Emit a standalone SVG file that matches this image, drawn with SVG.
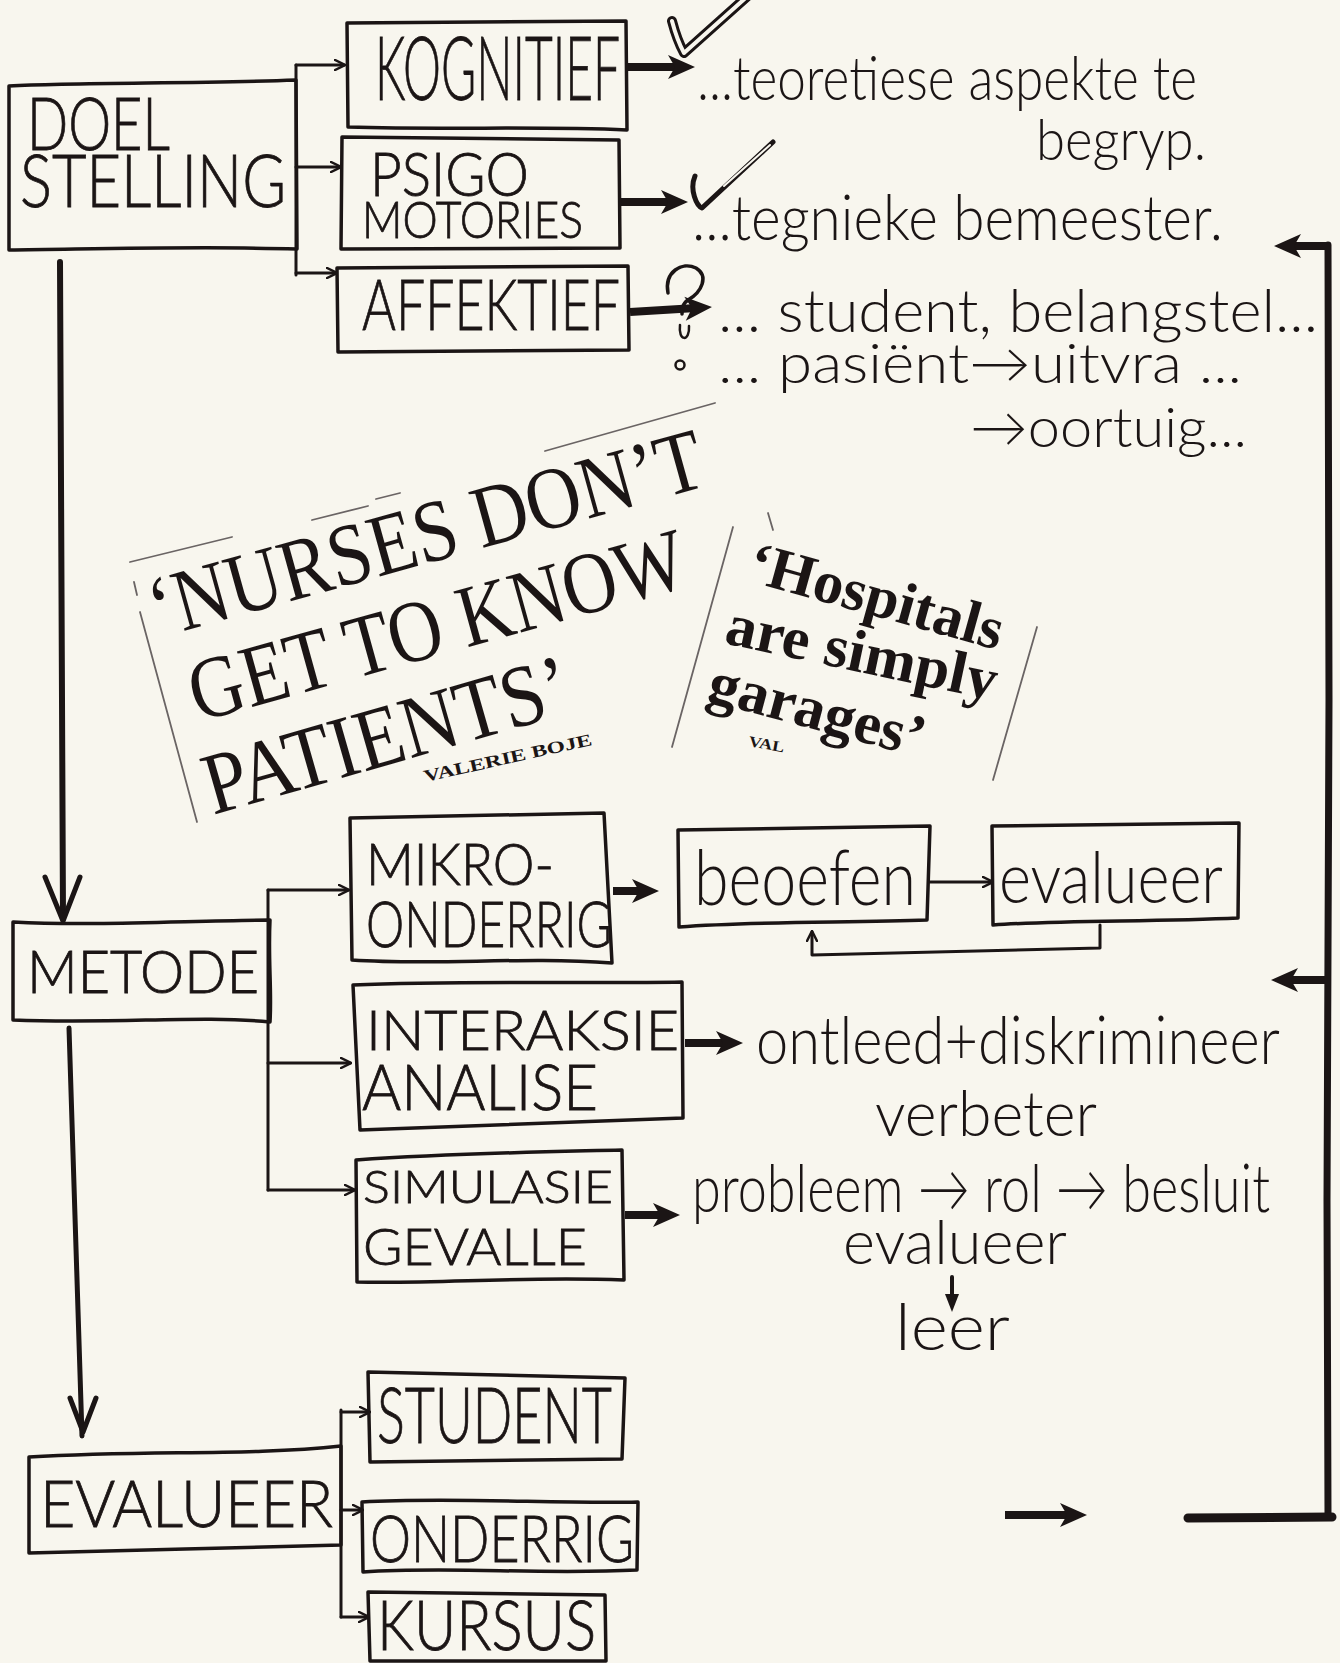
<svg xmlns="http://www.w3.org/2000/svg" width="1340" height="1663" viewBox="0 0 1340 1663">
<style>
.bg{fill:#f8f6ee}
.box{fill:none;stroke:#1b1515;stroke-width:3.5;stroke-linejoin:round;stroke-linecap:round}
.cap{font-family:"Lato","Liberation Sans",sans-serif;font-weight:300;fill:#1b1515;stroke:#1b1515;stroke-width:0.8}
.hand{font-family:"Lato","Liberation Sans",sans-serif;font-weight:300;fill:#1b1515}
.news{font-family:"Liberation Serif","Times New Roman",serif;fill:#1b1515}
.ln{fill:none;stroke:#1b1515;stroke-width:3;stroke-linecap:round;stroke-linejoin:round}
.thk{fill:none;stroke:#1b1515;stroke-width:8;stroke-linecap:butt;stroke-linejoin:miter}
.frame{fill:none;stroke:#6a6464;stroke-width:1.8;stroke-linecap:round}
.ink{fill:none;stroke:#1b1515;stroke-linecap:round;stroke-linejoin:round}
</style>
<defs>
<marker id="a" viewBox="0 0 12 12" refX="10" refY="6" markerWidth="12" markerHeight="12" markerUnits="userSpaceOnUse" orient="auto"><path d="M1,1 L11,6 L1,11" fill="none" stroke="#1b1515" stroke-width="2.5" stroke-linecap="round"/></marker>
<marker id="A" viewBox="0 0 30 26" refX="13" refY="13" markerWidth="30" markerHeight="26" markerUnits="userSpaceOnUse" orient="auto"><path d="M2,1 L29,13 L2,25 L9,13 Z" fill="#1b1515"/></marker>
</defs>
<rect class="bg" x="0" y="0" width="1340" height="1663"/>

<g id="connectors">
  <path class="ln" d="M296,65 L296,275"/>
  <path class="ln" d="M296,65 L344,65" marker-end="url(#a)"/>
  <path class="ln" d="M296,167 L340,167" marker-end="url(#a)"/>
  <path class="ln" d="M296,273 L336,273" marker-end="url(#a)"/>
  <path class="thk" d="M627,67 L679,67" marker-end="url(#A)"/>
  <path class="thk" d="M619,202 L672,202" marker-end="url(#A)"/>
  <path class="thk" d="M630,312 L696,308" marker-end="url(#A)"/>
  <path class="ink" stroke-width="6" d="M60,262 L63,918"/>
  <path class="ink" stroke-width="5" d="M45,877 L63,921 L80,877"/>
  <path class="ln" d="M268,890 L268,1190"/>
  <path class="ln" d="M268,890 L348,890" marker-end="url(#a)"/>
  <path class="ln" d="M268,1063 L350,1063" marker-end="url(#a)"/>
  <path class="ln" d="M268,1190 L354,1190" marker-end="url(#a)"/>
  <path class="thk" d="M613,891 L643,891" marker-end="url(#A)"/>
  <path class="thk" d="M685,1043 L727,1043" marker-end="url(#A)"/>
  <path class="thk" d="M625,1215 L664,1215" marker-end="url(#A)"/>
  <path class="ln" d="M930,882 L992,882" marker-end="url(#a)"/>
  <path class="ln" d="M1100,925 L1100,948 L812,955 L812,932" marker-end="url(#a)"/>
  <path class="ink" stroke-width="4" d="M952,1277 L952,1298"/>
  <path d="M945,1294 L952,1312 L959,1294 Z" fill="#1b1515"/>
  <path class="ink" stroke-width="5" d="M69,1028 L82,1436"/>
  <path class="ink" stroke-width="5" d="M70,1398 L83,1432 L96,1398"/>
  <path class="ln" d="M341,1410 L341,1617"/>
  <path class="ln" d="M341,1412 L369,1412" marker-end="url(#a)"/>
  <path class="ln" d="M341,1510 L362,1510" marker-end="url(#a)"/>
  <path class="ln" d="M341,1617 L368,1617" marker-end="url(#a)"/>
  <path class="ink" stroke-width="7" d="M1328,245 L1329,700 L1327,1200 L1328,1517"/>
  <path class="ink" stroke-width="9" stroke-linecap="butt" d="M1188,1518 L1332,1517"/>
  <path class="thk" d="M1328,246 L1290,246" marker-end="url(#A)"/>
  <path class="thk" d="M1328,980 L1287,980" marker-end="url(#A)"/>
  <path class="thk" d="M1005,1515 L1071,1515" marker-end="url(#A)"/>
</g>

<g id="node-doelstelling">
  <path class="box" d="M9,86 C80,82 200,84 296,80 L297,249 C200,246 100,249 9,250 Z"/>
  <text class="cap" x="27" y="150" font-size="72" textLength="143" lengthAdjust="spacingAndGlyphs">DOEL</text>
  <text class="cap" x="20" y="207" font-size="73" textLength="266" lengthAdjust="spacingAndGlyphs">STELLING</text>
</g>
<g id="node-kognitief">
  <path class="box" d="M347,23 L626,21 L627,130 C540,126 450,130 348,127 Z"/>
  <text class="cap" x="375" y="100" font-size="88" textLength="245" lengthAdjust="spacingAndGlyphs">KOGNITIEF</text>
</g>
<g id="node-psigomotories">
  <path class="box" d="M342,137 L619,140 L620,248 L341,249 Z"/>
  <text class="cap" x="370" y="196" font-size="62" textLength="159" lengthAdjust="spacingAndGlyphs">PSIGO</text>
  <text class="cap" x="362" y="238" font-size="52" textLength="221" lengthAdjust="spacingAndGlyphs">MOTORIES</text>
</g>
<g id="node-affektief">
  <path class="box" d="M337,268 L628,266 L629,350 L338,352 Z"/>
  <text class="cap" x="362" y="330" font-size="70" textLength="258" lengthAdjust="spacingAndGlyphs">AFFEKTIEF</text>
</g>

<g id="results-top">
  <path class="ink" stroke-width="10" d="M672,21 Q677,40 684,53 L750,-6"/>
  <path d="M672,21 Q677,40 684,53 L750,-6" fill="none" stroke="#f8f6ee" stroke-width="4" stroke-linecap="round" stroke-linejoin="round"/>
  <path class="ink" stroke-width="5" d="M695,176 C689,190 697,206 702,208 L773,142"/>
  <path d="M724,186 L770,145" fill="none" stroke="#f8f6ee" stroke-width="2" stroke-linecap="round"/>
  <path class="ink" stroke-width="3.5" d="M668,293 C664,272 682,261 696,268 C709,276 702,292 688,300 C682,304 682,309 682,314"/>
  <path class="ink" stroke-width="2.5" d="M680,325 C678,342 690,342 689,326"/>
  <circle cx="680" cy="365" r="4.5" fill="none" stroke="#1b1515" stroke-width="2.5"/>
  <text class="hand" x="697" y="100" font-size="62" textLength="500" lengthAdjust="spacingAndGlyphs">...teoretiese aspekte te</text>
  <text class="hand" x="1036" y="160" font-size="58" textLength="170" lengthAdjust="spacingAndGlyphs">begryp.</text>
  <text class="hand" x="692" y="240" font-size="64" textLength="531" lengthAdjust="spacingAndGlyphs">...tegnieke bemeester.</text>
  <text class="hand" transform="translate(718,332) scale(1,1.15)" font-size="52" textLength="600" lengthAdjust="spacingAndGlyphs">... student, belangstel...</text>
  <text class="hand" x="718" y="383" font-size="56" textLength="524" lengthAdjust="spacingAndGlyphs">... pasiënt→uitvra ...</text>
  <text class="hand" x="970" y="447" font-size="56" textLength="277" lengthAdjust="spacingAndGlyphs">→oortuig...</text>
</g>

<g id="clippings">
  <path class="frame" d="M130,562 L232,537 M312,520 L368,506 M376,499 L400,493 M545,451 L715,403"/>
  <path class="frame" d="M134,582 L137,595 M140,612 L197,822"/>
  <path class="frame" d="M733,527 L672,747 M768,513 L773,530 M1037,627 L993,780"/>
  <text class="news" transform="translate(158,638) rotate(-15.5)" font-size="88" textLength="572" lengthAdjust="spacingAndGlyphs">‘NURSES DON’T</text>
  <text class="news" transform="translate(198,722) rotate(-15.5)" font-size="88" textLength="512" lengthAdjust="spacingAndGlyphs">GET TO KNOW</text>
  <text class="news" transform="translate(213,815) rotate(-16)" font-size="88" textLength="378" lengthAdjust="spacingAndGlyphs">PATIENTS’</text>
  <text class="news" transform="translate(425,782) rotate(-12.5)" font-size="17" font-weight="700" textLength="172" lengthAdjust="spacingAndGlyphs">VALERIE  BOJE</text>
  <text class="news" transform="translate(745,580) rotate(15.5)" font-size="60" font-weight="700" textLength="262" lengthAdjust="spacingAndGlyphs">‘Hospitals</text>
  <text class="news" transform="translate(723,643) rotate(12)" font-size="60" font-weight="700" textLength="276" lengthAdjust="spacingAndGlyphs">are simply</text>
  <text class="news" transform="translate(705,700) rotate(15)" font-size="60" font-weight="700" textLength="222" lengthAdjust="spacingAndGlyphs">garages’</text>
  <text class="news" transform="translate(748,746) rotate(10)" font-size="15" font-weight="700" textLength="36" lengthAdjust="spacingAndGlyphs">VAL</text>
</g>

<g id="node-metode">
  <path class="box" d="M13,922 C90,926 180,921 270,920 C268,960 272,990 270,1022 C200,1015 120,1024 13,1020 Z"/>
  <text class="cap" x="27" y="993" font-size="60" textLength="232" lengthAdjust="spacingAndGlyphs">METODE</text>
</g>
<g id="node-mikro">
  <path class="box" d="M350,818 L604,813 L612,963 C520,956 440,966 352,960 Z"/>
  <text class="cap" x="366" y="885" font-size="58" textLength="188" lengthAdjust="spacingAndGlyphs">MIKRO-</text>
  <text class="cap" x="366" y="947" font-size="64" textLength="246" lengthAdjust="spacingAndGlyphs">ONDERRIG</text>
</g>
<g id="node-interaksie">
  <path class="box" d="M353,985 C460,980 580,984 682,982 L683,1118 C560,1122 460,1126 360,1130 Z"/>
  <text class="cap" x="366" y="1050" font-size="56" textLength="313" lengthAdjust="spacingAndGlyphs">INTERAKSIE</text>
  <text class="cap" x="362" y="1110" font-size="64" textLength="236" lengthAdjust="spacingAndGlyphs">ANALISE</text>
</g>
<g id="node-simulasie">
  <path class="box" d="M356,1160 C460,1153 540,1152 622,1150 L624,1280 C520,1276 440,1284 357,1282 Z"/>
  <text class="cap" x="363" y="1203" font-size="46" textLength="250" lengthAdjust="spacingAndGlyphs">SIMULASIE</text>
  <text class="cap" x="363" y="1265" font-size="52" textLength="224" lengthAdjust="spacingAndGlyphs">GEVALLE</text>
</g>
<g id="node-beoefen">
  <path class="box" d="M678,830 L930,826 L927,920 C850,923 760,921 679,927 Z"/>
  <text class="hand" x="694" y="905" font-size="76" textLength="222" lengthAdjust="spacingAndGlyphs">beoefen</text>
</g>
<g id="node-evalueer-box">
  <path class="box" d="M992,826 L1239,823 L1238,918 C1150,922 1060,920 993,925 Z"/>
  <text class="hand" x="999" y="903" font-size="70" textLength="224" lengthAdjust="spacingAndGlyphs">evalueer</text>
</g>
<g id="results-bottom">
  <text class="hand" transform="translate(756,1064) scale(1,1.17)" font-size="58" textLength="524" lengthAdjust="spacingAndGlyphs">ontleed+diskrimineer</text>
  <text class="hand" x="875" y="1136" font-size="64" textLength="222" lengthAdjust="spacingAndGlyphs">verbeter</text>
  <text class="hand" transform="translate(692,1212) scale(1,1.2)" font-size="56" textLength="578" lengthAdjust="spacingAndGlyphs">probleem → rol → besluit</text>
  <text class="hand" x="843" y="1264" font-size="62" textLength="224" lengthAdjust="spacingAndGlyphs">evalueer</text>
  <text class="hand" x="895" y="1350" font-size="66" textLength="115" lengthAdjust="spacingAndGlyphs">leer</text>
</g>

<g id="node-evalueer">
  <path class="box" d="M29,1457 C150,1450 250,1456 341,1446 L341,1545 C240,1548 130,1550 29,1553 Z"/>
  <text class="cap" x="40" y="1527" font-size="65" textLength="293" lengthAdjust="spacingAndGlyphs">EVALUEER</text>
</g>
<g id="node-student">
  <path class="box" d="M368,1372 L625,1378 L622,1459 L370,1462 Z"/>
  <text class="cap" x="377" y="1443" font-size="76" textLength="235" lengthAdjust="spacingAndGlyphs">STUDENT</text>
</g>
<g id="node-onderrig">
  <path class="box" d="M362,1502 C450,1497 560,1504 638,1502 L637,1570 C540,1575 450,1566 363,1572 Z"/>
  <text class="cap" x="370" y="1562" font-size="66" textLength="264" lengthAdjust="spacingAndGlyphs">ONDERRIG</text>
</g>
<g id="node-kursus">
  <path class="box" d="M368,1592 L605,1595 L606,1661 L370,1661 Z"/>
  <text class="cap" x="377" y="1650" font-size="68" textLength="219" lengthAdjust="spacingAndGlyphs">KURSUS</text>
</g>
</svg>
